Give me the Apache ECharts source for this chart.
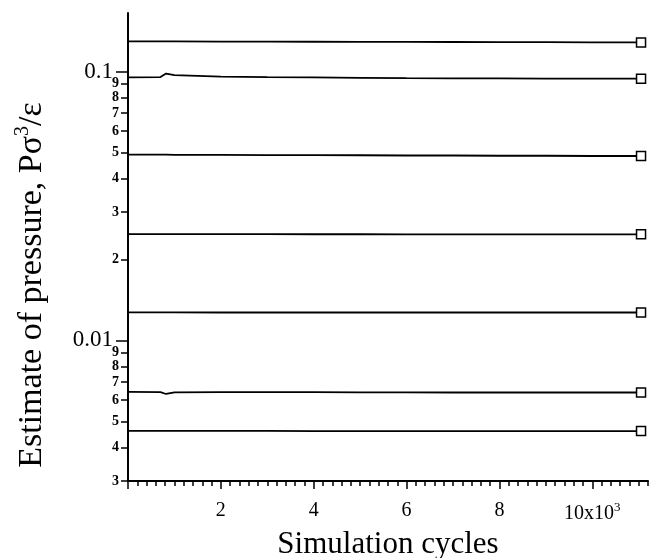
<!DOCTYPE html>
<html>
<head>
<meta charset="utf-8">
<script src="https://cdn.jsdelivr.net/npm/echarts@6/dist/echarts.min.js"></script>
<style>
  html, body { margin: 0; padding: 0; background: #fff; }
  #chart { width: 649px; height: 558px; }
</style>
</head>
<body>
<div id="chart"></div>
<script>
// Simulation cycle positions at which each pressure run was sampled
const cycles = [0, 700, 820, 1000, 2000, 3000, 4000, 5000, 6000, 7000, 8000, 9000, 10000, 11050];

// Pressure estimates P·σ³/ε for the seven runs (top to bottom)
const run1 = [0.1293, 0.1293, 0.1293, 0.1293, 0.1292, 0.1291, 0.1290, 0.1289, 0.1288, 0.1287, 0.1286, 0.1285, 0.1284, 0.1283];
const run2 = [0.0950, 0.0953, 0.0982, 0.0969, 0.0957, 0.0953, 0.0950, 0.0947, 0.0944, 0.0943, 0.0942, 0.0941, 0.0940, 0.0940];
const run3 = [0.0491, 0.0491, 0.0491, 0.0490, 0.0490, 0.0489, 0.0489, 0.0488, 0.0487, 0.0487, 0.0486, 0.0486, 0.0485, 0.0485];
const run4 = [0.02485, 0.02485, 0.02485, 0.02485, 0.02484, 0.02483, 0.02482, 0.02481, 0.0248, 0.0248, 0.0248, 0.0248, 0.0248, 0.0248];
const run5 = [0.01271, 0.01271, 0.01271, 0.01271, 0.0127, 0.0127, 0.0127, 0.0127, 0.0127, 0.0127, 0.0127, 0.0127, 0.0127, 0.0127];
const run6 = [0.00643, 0.00642, 0.00632, 0.00641, 0.00642, 0.00642, 0.00642, 0.00641, 0.00641, 0.0064, 0.0064, 0.0064, 0.0064, 0.0064];
const run7 = [0.00461, 0.00461, 0.00461, 0.00461, 0.00461, 0.00461, 0.0046, 0.0046, 0.0046, 0.0046, 0.0046, 0.0046, 0.0046, 0.0046];
const runs = [run1, run2, run3, run4, run5, run6, run7];

// Axis ticks
const yMajorTicks = [0.01, 0.1];
const yMinorTicks = [0.003, 0.004, 0.005, 0.006, 0.007, 0.008, 0.009,
                     0.02, 0.03, 0.04, 0.05, 0.06, 0.07, 0.08];
const yTopMinorTicks = [0.09];
const xMajorTicks = [0, 2000, 4000, 6000, 8000, 10000];
const xLabelTicks = [2000, 4000, 6000, 8000, 10000];

const serif = "'Liberation Serif', 'Times New Roman', serif";
const Y_MIN = 0.003, Y_MAX = 0.165, X_MIN = 0, X_MAX = 11200;

const chart = echarts.init(document.getElementById('chart'), null, { renderer: 'canvas' });

function mantissa(v) {
  const e = Math.floor(Math.log10(v) + 1e-9);
  return String(Math.round(v / Math.pow(10, e)));
}

// Short-tick log axis carrying the in-decade labels 2..9
function minorLogAxis(values) {
  return {
    type: 'log', min: Y_MIN, max: Y_MAX, logBase: 10,
    position: 'left',
    axisLine: { show: false },
    axisTick: { show: true, length: 7, customValues: values, lineStyle: { color: '#000', width: 1.5 } },
    axisLabel: {
      customValues: values, margin: 9,
      color: '#000', fontFamily: serif, fontSize: 14, fontWeight: 'bold',
      lineHeight: 11, hideOverlap: false,
      formatter: v => mantissa(v)
    },
    splitLine: { show: false }
  };
}

const lastIdx = cycles.length - 1;

const option = {
  backgroundColor: '#fff',
  animation: false,
  grid: { left: 128, right: 1, top: 13, bottom: 77, containLabel: false, outerBoundsMode: 'none' },
  xAxis: [
    {
      type: 'value', min: X_MIN, max: X_MAX, interval: 2000,
      position: 'bottom',
      axisLine: { show: true, lineStyle: { color: '#000', width: 2 } },
      axisTick: { show: true, length: 8, customValues: xMajorTicks, lineStyle: { color: '#000', width: 1.5 } },
      axisLabel: {
        customValues: xLabelTicks,
        margin: 20,
        color: '#000', fontFamily: serif, fontSize: 20,
        formatter: v => v === 10000 ? '10x10{sup|3}' : String(v / 1000),
        rich: { sup: { fontFamily: serif, fontSize: 13, color: '#000', padding: [0, 0, 13, 0] } }
      },
      splitLine: { show: false },
      name: 'Simulation cycles', nameLocation: 'middle', nameGap: 46,
      nameTextStyle: { color: '#000', fontFamily: serif, fontSize: 31 }
    },
    {
      type: 'value', min: X_MIN, max: X_MAX, interval: 200,
      position: 'bottom',
      axisLine: { show: false },
      axisTick: { show: true, length: 5, lineStyle: { color: '#000', width: 1.5 } },
      axisLabel: { show: false },
      splitLine: { show: false }
    }
  ],
  yAxis: [
    {
      type: 'log', min: Y_MIN, max: Y_MAX, logBase: 10,
      position: 'left',
      axisLine: { show: true, lineStyle: { color: '#000', width: 2 } },
      axisTick: { show: true, length: 12, customValues: yMajorTicks, lineStyle: { color: '#000', width: 1.5 } },
      axisLabel: {
        customValues: yMajorTicks, margin: 15,
        color: '#000', fontFamily: serif, fontSize: 23,
        hideOverlap: false,
        formatter: v => (v >= 0.05 ? '0.1' : '0.01')
      },
      splitLine: { show: false },
      name: 'Estimate of pressure, P\u03c3{sup|3}/\u03b5',
      nameLocation: 'middle', nameGap: 76, nameRotate: 90,
      nameTextStyle: {
        color: '#000', fontFamily: serif, fontSize: 34,
        padding: [0, 76, 0, 0],
        rich: { sup: { fontFamily: serif, fontSize: 20, color: '#000', padding: [0, 0, 19, 0] } }
      }
    },
    minorLogAxis(yMinorTicks),
    minorLogAxis(yTopMinorTicks)
  ],
  series: runs.map((r, i) => ({
    type: 'line',
    name: 'run' + (i + 1),
    xAxisIndex: 0, yAxisIndex: 0,
    data: cycles.map((c, j) => [c, r[j]]),
    symbol: 'rect',
    symbolSize: (val, p) => (p.dataIndex === lastIdx ? 9 : 0),
    showAllSymbol: true,
    itemStyle: { color: '#fff', borderColor: '#000', borderWidth: 1.5 },
    lineStyle: { color: '#000', width: 1.8 },
    emphasis: { disabled: true }
  }))
};

chart.setOption(option);
</script>
</body>
</html>
